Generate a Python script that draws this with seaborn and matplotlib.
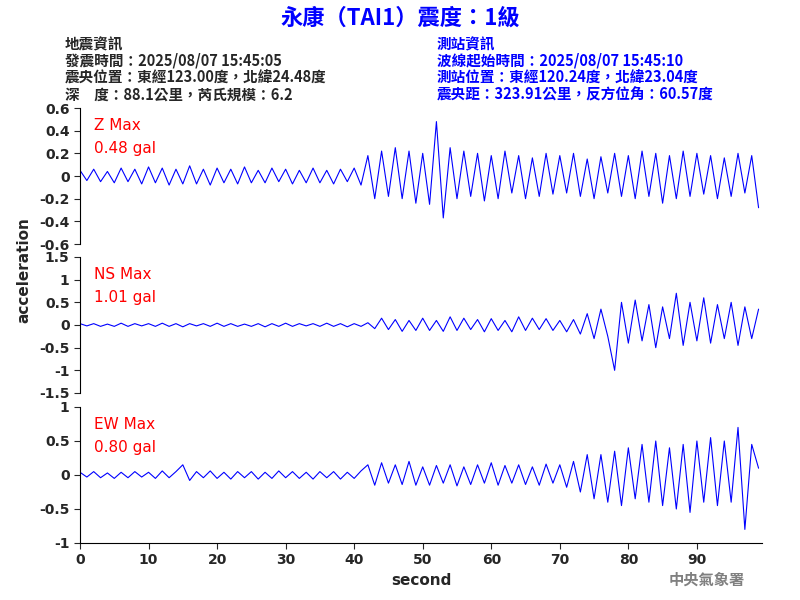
import numpy as np
import matplotlib.pyplot as plt
import seaborn as sns

sns.set_style("white")
plt.rcParams['font.family'] = ['Noto Sans CJK TC', 'DejaVu Sans']

seconds = list(range(100))
z_acc = [0.05, -0.04, 0.06, -0.05, 0.04, -0.06, 0.07, -0.05, 0.06, -0.07,
         0.08, -0.06, 0.07, -0.08, 0.06, -0.07, 0.09, -0.07, 0.06, -0.08,
         0.07, -0.06, 0.06, -0.07, 0.08, -0.06, 0.05, -0.06, 0.07, -0.05,
         0.06, -0.07, 0.05, -0.06, 0.07, -0.06, 0.05, -0.07, 0.06, -0.05,
         0.07, -0.08, 0.18, -0.2, 0.22, -0.18, 0.25, -0.2, 0.22, -0.24,
         0.2, -0.25, 0.48, -0.37, 0.25, -0.2, 0.22, -0.18, 0.2, -0.22,
         0.18, -0.2, 0.22, -0.15, 0.18, -0.2, 0.16, -0.18, 0.2, -0.16,
         0.18, -0.15, 0.2, -0.18, 0.15, -0.2, 0.17, -0.15, 0.2, -0.18,
         0.18, -0.2, 0.22, -0.18, 0.2, -0.24, 0.18, -0.2, 0.22, -0.18,
         0.2, -0.16, 0.18, -0.2, 0.16, -0.18, 0.2, -0.15, 0.18, -0.28]
ns_acc = [0.03, -0.02, 0.03, -0.03, 0.02, -0.03, 0.04, -0.03, 0.03, -0.02,
          0.03, -0.03, 0.04, -0.03, 0.03, -0.04, 0.03, -0.02, 0.03, -0.03,
          0.04, -0.03, 0.03, -0.03, 0.02, -0.03, 0.03, -0.04, 0.03, -0.03,
          0.04, -0.03, 0.03, -0.02, 0.03, -0.03, 0.04, -0.03, 0.03, -0.04,
          0.03, -0.03, 0.05, -0.08, 0.15, -0.1, 0.12, -0.14, 0.1, -0.12,
          0.15, -0.12, 0.1, -0.14, 0.18, -0.12, 0.15, -0.1, 0.12, -0.15,
          0.14, -0.12, 0.1, -0.15, 0.18, -0.12, 0.15, -0.1, 0.14, -0.12,
          0.1, -0.15, 0.12, -0.2, 0.25, -0.3, 0.35, -0.25, -1.0, 0.5,
          -0.4, 0.55, -0.35, 0.45, -0.5, 0.4, -0.3, 0.7, -0.45, 0.5,
          -0.35, 0.6, -0.4, 0.45, -0.3, 0.5, -0.45, 0.4, -0.3, 0.35]
ew_acc = [0.04, -0.03, 0.05, -0.04, 0.03, -0.05, 0.04, -0.04, 0.05, -0.03,
          0.04, -0.05, 0.06, -0.04, 0.05, 0.15, -0.08, 0.05, -0.04, 0.06,
          -0.05, 0.04, -0.06, 0.05, -0.04, 0.05, -0.06, 0.04, -0.05, 0.06,
          -0.04, 0.05, -0.05, 0.04, -0.06, 0.05, -0.04, 0.05, -0.06, 0.04,
          -0.05, 0.06, 0.15, -0.15, 0.18, -0.12, 0.15, -0.14, 0.2, -0.15,
          0.12, -0.15, 0.14, -0.12, 0.15, -0.16, 0.12, -0.14, 0.15, -0.12,
          0.18, -0.15, 0.14, -0.12, 0.15, -0.14, 0.12, -0.15, 0.16, -0.12,
          0.15, -0.18, 0.2, -0.25, 0.3, -0.35, 0.3, -0.4, 0.35, -0.45,
          0.4, -0.35, 0.45, -0.4, 0.5, -0.45, 0.4, -0.5, 0.45, -0.55,
          0.5, -0.4, 0.55, -0.45, 0.5, -0.4, 0.7, -0.8, 0.45, 0.1]

panels = [("Z Max", "0.48 gal", z_acc, 0.6, [-0.6, -0.4, -0.2, 0, 0.2, 0.4, 0.6]),
          ("NS Max", "1.01 gal", ns_acc, 1.5, [-1.5, -1, -0.5, 0, 0.5, 1, 1.5]),
          ("EW Max", "0.80 gal", ew_acc, 1.0, [-1, -0.5, 0, 0.5, 1])]

fig = plt.figure(figsize=(8, 6), dpi=100)
tops = [108, 257, 407]
for i, (name, gal, vals, lim, ticks) in enumerate(panels):
    ax = fig.add_axes([80 / 800, 1 - (tops[i] + 136) / 600, 682 / 800, 136 / 600])
    sns.lineplot(x=seconds, y=vals, ax=ax, color='blue', lw=0.8)
    ax.set_xlim(0, 99.5)
    ax.set_ylim(-lim, lim)
    ax.set_yticks(ticks)
    ax.set_yticklabels([f"{t:g}" for t in ticks], fontsize=10, fontweight='bold', family='DejaVu Sans')
    for s in ['top', 'right']:
        ax.spines[s].set_visible(False)
    ax.spines['left'].set_color('black')
    ax.tick_params(axis='y', left=True, length=4)
    ax.text(0.02, 0.93, name, transform=ax.transAxes, color='red', fontsize=11, va='top', family='DejaVu Sans')
    ax.text(0.02, 0.76, gal, transform=ax.transAxes, color='red', fontsize=11, va='top', family='DejaVu Sans')
    if i < 2:
        ax.spines['bottom'].set_visible(False)
        ax.set_xticks([])
    else:
        ax.spines['bottom'].set_color('black')
        ax.set_xticks(range(0, 100, 10))
        ax.set_xticklabels([str(t) for t in range(0, 100, 10)], fontsize=10, fontweight='bold', family='DejaVu Sans')
        ax.tick_params(axis='x', bottom=True, length=4)
        ax.set_xlabel("second", fontsize=11, fontweight='bold', family='DejaVu Sans')

fig.text(0.03, 0.55, "acceleration", rotation=90, ha='center', va='center', fontsize=11, fontweight='bold', family='DejaVu Sans')
fig.text(0.5, 0.97, "永康（TAI1）震度：1級", ha='center', va='center', color='blue', fontsize=16, fontweight='bold')
left = ["地震資訊", "發震時間：2025/08/07 15:45:05", "震央位置：東經123.00度，北緯24.48度", "深　度：88.1公里，芮氏規模：6.2"]
right = ["測站資訊", "波線起始時間：2025/08/07 15:45:10", "測站位置：東經120.24度，北緯23.04度", "震央距：323.91公里，反方位角：60.57度"]
for k, (l, r) in enumerate(zip(left, right)):
    y = 1 - (44 + k * 17) / 600
    fig.text(65 / 800, y, l, fontsize=10.5, va='center', fontweight='bold')
    fig.text(437 / 800, y, r, fontsize=10.5, va='center', color='blue', fontweight='bold')
fig.text(745 / 800, 1 - 580 / 600, "中央氣象署", ha='right', va='center', color='gray', fontsize=11, fontweight='bold')

fig.savefig('out.png', dpi=100, facecolor='white')
